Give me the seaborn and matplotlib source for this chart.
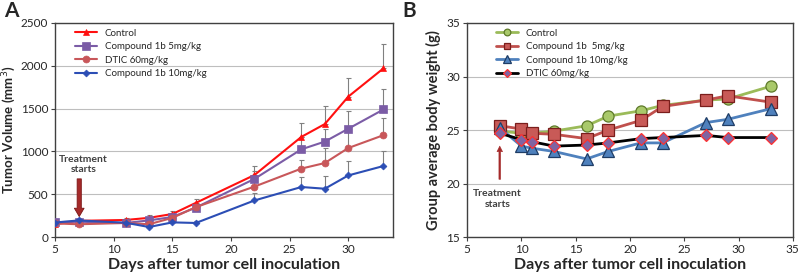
import numpy as np
import matplotlib
matplotlib.use("Agg")
import matplotlib.pyplot as plt
import seaborn as sns

# ===== Panel A: tumor volume =====
days_a = [5, 7, 11, 13, 15, 17, 22, 26, 28, 30, 33]
vol_control = [150, 190, 200, 225, 270, 400, 725, 1170, 1320, 1640, 1970]
vol_c1b_5 = [175, 180, 165, 195, 235, 345, 680, 1025, 1115, 1265, 1490]
vol_dtic = [160, 150, 165, 150, 225, 350, 590, 800, 865, 1040, 1190]
vol_c1b_10 = [170, 195, 168, 118, 172, 165, 428, 585, 565, 720, 830]

err_control = [20, 20, 25, 30, 30, 50, 105, 165, 205, 220, 280]
err_c1b_5 = [15, 15, 20, 40, 30, 40, 90, 140, 150, 205, 240]
err_dtic = [15, 15, 15, 20, 30, 40, 80, 95, 175, 200, 200]
err_c1b_10 = [15, 15, 20, 20, 30, 20, 85, 115, 145, 165, 180]

labels_a = ["Control", "Compound 1b 5mg/kg", "DTIC 60mg/kg", "Compound 1b 10mg/kg"]

# ===== Panel B: body weight =====
days_b = [8, 10, 11, 13, 16, 18, 21, 23, 27, 29, 33]
bw_control = [24.9, 24.7, 24.7, 24.9, 25.4, 26.3, 26.8, 27.3, 27.8, 27.9, 29.1]
bw_c1b_5 = [25.4, 25.1, 24.7, 24.6, 24.2, 25.0, 25.9, 27.2, 27.8, 28.2, 27.6]
bw_c1b_10 = [25.2, 23.5, 23.3, 23.0, 22.3, 23.0, 23.8, 23.8, 25.7, 26.0, 27.0]
bw_dtic = [24.7, 24.1, 23.9, 23.5, 23.6, 23.8, 24.2, 24.3, 24.5, 24.3, 24.3]

labels_b = ["Control", "Compound 1b  5mg/kg", "Compound 1b 10mg/kg", "DTIC 60mg/kg"]

sns.set_style("white")
plt.rcParams["font.family"] = ["Lato", "DejaVu Sans"]

fig = plt.figure(figsize=(8, 2.77), dpi=100)
ax_a = fig.add_axes([0.069, 0.144, 0.422, 0.773])
ax_b = fig.add_axes([0.584, 0.144, 0.407, 0.773])

# ---- A ----
styles_a = [
    (vol_control, err_control, "#FF1010", "^", 5),
    (vol_c1b_5, err_c1b_5, "#7B5CA6", "s", 5.5),
    (vol_dtic, err_dtic, "#C8575A", "o", 5),
    (vol_c1b_10, err_c1b_10, "#2C4EB5", "D", 3.5),
]
for (vals, err, col, mk, ms), lab in zip(styles_a, labels_a):
    ax_a.errorbar(days_a, vals, yerr=[np.zeros(len(err)), err], fmt="none",
                  ecolor="#808080", elinewidth=0.8, capsize=1.8, capthick=0.8, zorder=1)
    sns.lineplot(x=days_a, y=vals, ax=ax_a, color=col, marker=mk, markersize=ms,
                 markeredgewidth=0.5, markeredgecolor=col, linewidth=1.5, label=lab, zorder=3)

ax_a.set_xlim(5, 33.8)
ax_a.set_ylim(0, 2500)
ax_a.set_xticks([5, 10, 15, 20, 25, 30])
ax_a.set_yticks([0, 500, 1000, 1500, 2000, 2500])
ax_a.yaxis.grid(True, color="#BEBEBE", linewidth=0.8)
ax_a.set_axisbelow(True)
ax_a.set_xlabel("Days after tumor cell inoculation", fontsize=11.5, fontweight="bold", labelpad=2)
ax_a.set_ylabel("Tumor Volume (mm$^3$)", fontsize=9.5, fontweight="bold", labelpad=2)
ax_a.legend(loc="upper left", bbox_to_anchor=(0.04, 1.0), frameon=False, fontsize=7,
            handlelength=2.3, labelspacing=0.45, borderaxespad=0.2)
ax_a.annotate("", xy=(7.05, 240), xytext=(7.05, 680),
              arrowprops=dict(facecolor="#A52A2A", edgecolor="#7A1515", width=3,
                              headwidth=7, headlength=6, linewidth=0.6))
ax_a.text(7.4, 850, "Treatment\nstarts", ha="center", va="center", fontsize=7.5,
          fontweight="bold", color="#404040", linespacing=1.1)
fig.text(0.005, 0.995, "A", fontsize=15, fontweight="bold", va="top", ha="left")

# ---- B ----
styles_b = [
    (bw_control, "#9BBB59", "o", "#A9C96A", "#5E7A2A", 8),
    (bw_c1b_5, "#C0504D", "s", "#C85A57", "#7A1E1C", 8),
    (bw_c1b_10, "#4F81BD", "^", "#4F81BD", "#1F3D66", 9),
    (bw_dtic, "#000000", "D", "#8064A2", "#FF3030", 6.5),
]
for (vals, lc, mk, fc, ec, ms), lab in zip(styles_b, labels_b):
    sns.lineplot(x=days_b, y=vals, ax=ax_b, color=lc, marker=mk, markersize=ms,
                 markerfacecolor=fc, markeredgecolor=ec, markeredgewidth=0.9,
                 linewidth=2, label=lab)

ax_b.set_xlim(5, 35)
ax_b.set_ylim(15, 35)
ax_b.set_xticks([5, 10, 15, 20, 25, 30, 35])
ax_b.set_yticks([15, 20, 25, 30, 35])
ax_b.yaxis.grid(True, color="#BEBEBE", linewidth=0.8)
ax_b.set_axisbelow(True)
ax_b.set_xlabel("Days after tumor cell inoculation", fontsize=11.5, fontweight="bold", labelpad=2)
ax_b.set_ylabel("Group average body weight (g)", fontsize=10.5, fontweight="bold", labelpad=4)
ax_b.legend(loc="upper left", bbox_to_anchor=(0.07, 1.0), frameon=False, fontsize=7,
            handlelength=2.3, labelspacing=0.45, borderaxespad=0.2, markerscale=0.6)
ax_b.annotate("", xy=(8.0, 23.5), xytext=(8.0, 20.4),
              arrowprops=dict(facecolor="#A52A2A", edgecolor="#A52A2A", width=1.2,
                              headwidth=4, headlength=4, linewidth=0.4))
ax_b.text(7.8, 18.6, "Treatment\nstarts", ha="center", va="center", fontsize=7.5,
          fontweight="bold", color="#404040", linespacing=1.3)
fig.text(0.503, 0.995, "B", fontsize=15, fontweight="bold", va="top", ha="left")

for ax in (ax_a, ax_b):
    for sp in ax.spines.values():
        sp.set_color("#404040")
        sp.set_linewidth(1.0)
    ax.tick_params(axis="both", labelsize=8.5, length=3, width=0.8, direction="out",
                   bottom=True, left=True, pad=2, color="#404040")

fig.savefig("out.png", dpi=100)
